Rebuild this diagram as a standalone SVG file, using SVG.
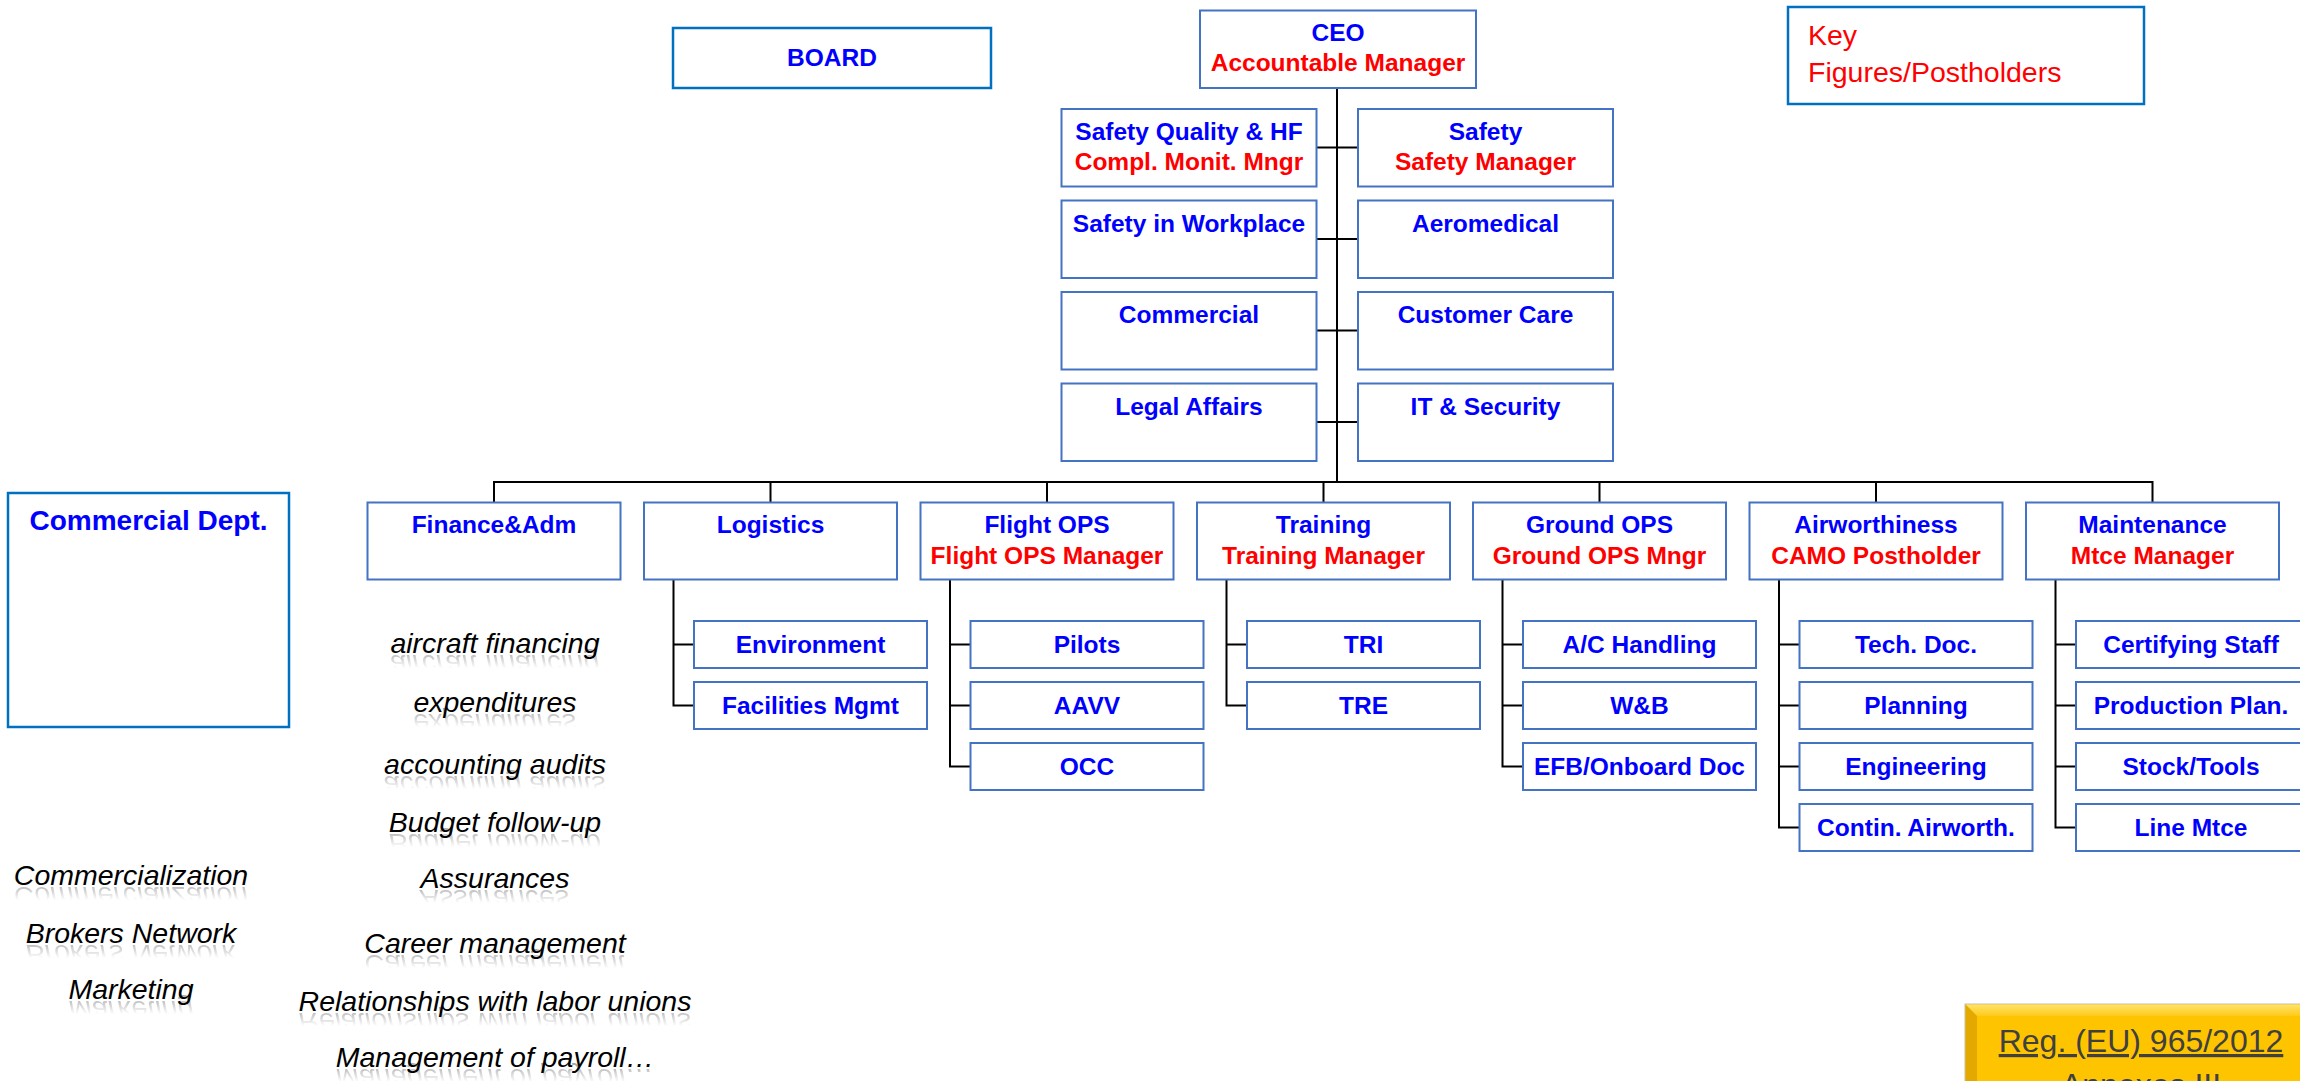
<svg xmlns="http://www.w3.org/2000/svg" xmlns:xlink="http://www.w3.org/1999/xlink" width="2300" height="1081" viewBox="0 0 2300 1081">
<style>
.box{fill:#fff;stroke:#4472C4;stroke-width:2}
.obox{fill:#fff;stroke:#0070C0;stroke-width:2.5}
.t{font-family:"Liberation Sans",Arial,sans-serif;font-weight:bold;font-size:24.5px;text-anchor:middle}
.b{fill:#0000FF}
.r{fill:#FF0000}
.it{font-family:"Liberation Sans",Arial,sans-serif;font-style:italic;font-size:28.5px;fill:#000;text-anchor:middle}
.conn{stroke:#000;stroke-width:2;fill:none}
.refl{opacity:0.4}
</style>
<defs>
<linearGradient id="fade" x1="0" y1="0" x2="0" y2="1">
<stop offset="0.4" stop-color="#fff" stop-opacity="0"/>
<stop offset="1" stop-color="#fff" stop-opacity="0.9"/>
</linearGradient>
<mask id="rm" maskContentUnits="objectBoundingBox">
<rect x="0" y="0" width="1" height="1" fill="url(#fade)"/>
</mask>
<filter id="soft" x="-5%" y="-20%" width="110%" height="140%"><feGaussianBlur stdDeviation="0.7"/></filter>
<linearGradient id="bevTop" x1="0" y1="0" x2="0" y2="1">
<stop offset="0" stop-color="#FFE36B"/>
<stop offset="1" stop-color="#FFCA1A"/>
</linearGradient>
</defs>

<g id="connectors">
<path class="conn" d="M1337,88 V482"/>
<path class="conn" d="M1316.5,147.5 H1358 M1316.5,239 H1358 M1316.5,330.5 H1358 M1316.5,422 H1358"/>
<path class="conn" d="M494,502.5 V482 H2152.5 V502.5"/>
<path class="conn" d="M770.5,482 V502.5 M1047,482 V502.5 M1323.5,482 V502.5 M1599.5,482 V502.5 M1876,482 V502.5"/>
<path class="conn" d="M673.5,579.5 V705.5 H694 M673.5,644.5 H694"/>
<path class="conn" d="M950,579.5 V766.5 H970.5 M950,644.5 H970.5 M950,705.5 H970.5"/>
<path class="conn" d="M1226.5,579.5 V705.5 H1247 M1226.5,644.5 H1247"/>
<path class="conn" d="M1502.5,579.5 V766.5 H1523 M1502.5,644.5 H1523 M1502.5,705.5 H1523"/>
<path class="conn" d="M1779,579.5 V827.5 H1799.5 M1779,644.5 H1799.5 M1779,705.5 H1799.5 M1779,766.5 H1799.5"/>
<path class="conn" d="M2055.5,579.5 V827.5 H2076 M2055.5,644.5 H2076 M2055.5,705.5 H2076 M2055.5,766.5 H2076"/>
</g>

<g id="board"><rect class="obox" x="673" y="28" width="318" height="60"/><text class="t b" x="832" y="66">BOARD</text></g>
<g id="ceo"><rect class="box" x="1200" y="10.5" width="276" height="77.5"/><text class="t b" x="1338" y="40.5">CEO</text><text class="t r" x="1338" y="71">Accountable Manager</text></g>
<g id="key"><rect class="obox" x="1788" y="7" width="356" height="97"/>
<text x="1808" y="45" style="font-family:'Liberation Sans',Arial,sans-serif;font-size:28.5px;fill:#FF0000">Key</text>
<text x="1808" y="82" style="font-family:'Liberation Sans',Arial,sans-serif;font-size:28.5px;fill:#FF0000">Figures/Postholders</text></g>

<g id="safety-quality"><rect class="box" x="1061.5" y="109" width="255" height="77.5"/><text class="t b" x="1189" y="140">Safety Quality &amp; HF</text><text class="t r" x="1189" y="170">Compl. Monit. Mngr</text></g>
<g id="safety"><rect class="box" x="1358" y="109" width="255" height="77.5"/><text class="t b" x="1485.5" y="140">Safety</text><text class="t r" x="1485.5" y="170">Safety Manager</text></g>
<g id="safety-workplace"><rect class="box" x="1061.5" y="200.5" width="255" height="77.5"/><text class="t b" x="1189" y="231.5">Safety in Workplace</text></g>
<g id="aeromedical"><rect class="box" x="1358" y="200.5" width="255" height="77.5"/><text class="t b" x="1485.5" y="231.5">Aeromedical</text></g>
<g id="commercial"><rect class="box" x="1061.5" y="292" width="255" height="77.5"/><text class="t b" x="1189" y="323">Commercial</text></g>
<g id="customer-care"><rect class="box" x="1358" y="292" width="255" height="77.5"/><text class="t b" x="1485.5" y="323">Customer Care</text></g>
<g id="legal"><rect class="box" x="1061.5" y="383.5" width="255" height="77.5"/><text class="t b" x="1189" y="414.5">Legal Affairs</text></g>
<g id="it-security"><rect class="box" x="1358" y="383.5" width="255" height="77.5"/><text class="t b" x="1485.5" y="414.5">IT &amp; Security</text></g>

<g id="commercial-dept"><rect class="obox" x="8" y="493" width="281" height="234"/><text class="t b" x="148.5" y="530" style="font-size:28px">Commercial Dept.</text></g>

<g id="finance"><rect class="box" x="367.5" y="502.5" width="253" height="77"/><text class="t b" x="494" y="533">Finance&amp;Adm</text></g>
<g id="logistics"><rect class="box" x="644" y="502.5" width="253" height="77"/><text class="t b" x="770.5" y="533">Logistics</text></g>
<g id="flight-ops"><rect class="box" x="920.5" y="502.5" width="253" height="77"/><text class="t b" x="1047" y="533">Flight OPS</text><text class="t r" x="1047" y="563.5">Flight OPS Manager</text></g>
<g id="training"><rect class="box" x="1197" y="502.5" width="253" height="77"/><text class="t b" x="1323.5" y="533">Training</text><text class="t r" x="1323.5" y="563.5">Training Manager</text></g>
<g id="ground-ops"><rect class="box" x="1473" y="502.5" width="253" height="77"/><text class="t b" x="1599.5" y="533">Ground OPS</text><text class="t r" x="1599.5" y="563.5">Ground OPS Mngr</text></g>
<g id="airworthiness"><rect class="box" x="1749.5" y="502.5" width="253" height="77"/><text class="t b" x="1876" y="533">Airworthiness</text><text class="t r" x="1876" y="563.5">CAMO Postholder</text></g>
<g id="maintenance"><rect class="box" x="2026" y="502.5" width="253" height="77"/><text class="t b" x="2152.5" y="533">Maintenance</text><text class="t r" x="2152.5" y="563.5">Mtce Manager</text></g>

<g id="environment"><rect class="box" x="694" y="621" width="233" height="47"/><text class="t b" x="810.5" y="653">Environment</text></g>
<g id="facilities"><rect class="box" x="694" y="682" width="233" height="47"/><text class="t b" x="810.5" y="714">Facilities Mgmt</text></g>

<g id="pilots"><rect class="box" x="970.5" y="621" width="233" height="47"/><text class="t b" x="1087" y="653">Pilots</text></g>
<g id="aavv"><rect class="box" x="970.5" y="682" width="233" height="47"/><text class="t b" x="1087" y="714">AAVV</text></g>
<g id="occ"><rect class="box" x="970.5" y="743" width="233" height="47"/><text class="t b" x="1087" y="775">OCC</text></g>

<g id="tri"><rect class="box" x="1247" y="621" width="233" height="47"/><text class="t b" x="1363.5" y="653">TRI</text></g>
<g id="tre"><rect class="box" x="1247" y="682" width="233" height="47"/><text class="t b" x="1363.5" y="714">TRE</text></g>

<g id="ac-handling"><rect class="box" x="1523" y="621" width="233" height="47"/><text class="t b" x="1639.5" y="653">A/C Handling</text></g>
<g id="wb"><rect class="box" x="1523" y="682" width="233" height="47"/><text class="t b" x="1639.5" y="714">W&amp;B</text></g>
<g id="efb"><rect class="box" x="1523" y="743" width="233" height="47"/><text class="t b" x="1639.5" y="775">EFB/Onboard Doc</text></g>

<g id="tech-doc"><rect class="box" x="1799.5" y="621" width="233" height="47"/><text class="t b" x="1916" y="653">Tech. Doc.</text></g>
<g id="planning"><rect class="box" x="1799.5" y="682" width="233" height="47"/><text class="t b" x="1916" y="714">Planning</text></g>
<g id="engineering"><rect class="box" x="1799.5" y="743" width="233" height="47"/><text class="t b" x="1916" y="775">Engineering</text></g>
<g id="contin"><rect class="box" x="1799.5" y="804" width="233" height="47"/><text class="t b" x="1916" y="836">Contin. Airworth.</text></g>

<g id="certifying"><rect class="box" x="2076" y="621" width="233" height="47"/><text class="t b" x="2191" y="653">Certifying Staff</text></g>
<g id="production"><rect class="box" x="2076" y="682" width="233" height="47"/><text class="t b" x="2191" y="714">Production Plan.</text></g>
<g id="stock"><rect class="box" x="2076" y="743" width="233" height="47"/><text class="t b" x="2191" y="775">Stock/Tools</text></g>
<g id="line-mtce"><rect class="box" x="2076" y="804" width="233" height="47"/><text class="t b" x="2191" y="836">Line Mtce</text></g>

<g id="finance-tasks">
<text id="f1" class="it" x="495" y="653">aircraft financing</text>
<text id="f2" class="it" x="495" y="712">expenditures</text>
<text id="f3" class="it" x="495" y="774">accounting audits</text>
<text id="f4" class="it" x="495" y="832">Budget follow-up</text>
<text id="f5" class="it" x="495" y="888">Assurances</text>
<text id="f6" class="it" x="495" y="953">Career management</text>
<text id="f7" class="it" x="495" y="1011">Relationships with labor unions</text>
<text id="f8" class="it" x="495" y="1067">Management of payroll…</text>
</g>
<g id="commercial-tasks">
<text id="c1" class="it" x="131" y="885">Commercialization</text>
<text id="c2" class="it" x="131" y="943">Brokers Network</text>
<text id="c3" class="it" x="131" y="999">Marketing</text>
</g>
<g id="reflections" class="refl" filter="url(#soft)">
<use xlink:href="#f1" href="#f1" mask="url(#rm)" transform="translate(0,1308) scale(1,-1)"/>
<use xlink:href="#f2" href="#f2" mask="url(#rm)" transform="translate(0,1426) scale(1,-1)"/>
<use xlink:href="#f3" href="#f3" mask="url(#rm)" transform="translate(0,1550) scale(1,-1)"/>
<use xlink:href="#f4" href="#f4" mask="url(#rm)" transform="translate(0,1666) scale(1,-1)"/>
<use xlink:href="#f5" href="#f5" mask="url(#rm)" transform="translate(0,1778) scale(1,-1)"/>
<use xlink:href="#f6" href="#f6" mask="url(#rm)" transform="translate(0,1908) scale(1,-1)"/>
<use xlink:href="#f7" href="#f7" mask="url(#rm)" transform="translate(0,2024) scale(1,-1)"/>
<use xlink:href="#f8" href="#f8" mask="url(#rm)" transform="translate(0,2136) scale(1,-1)"/>
<use xlink:href="#c1" href="#c1" mask="url(#rm)" transform="translate(0,1772) scale(1,-1)"/>
<use xlink:href="#c2" href="#c2" mask="url(#rm)" transform="translate(0,1888) scale(1,-1)"/>
<use xlink:href="#c3" href="#c3" mask="url(#rm)" transform="translate(0,2000) scale(1,-1)"/>
</g>

<g id="regulation">
<rect x="1965" y="1004" width="345" height="92" fill="#FFC400" stroke="#BFBFBF" stroke-width="1"/>
<polygon points="1965.5,1004.5 2310,1004.5 2310,1016 1977,1016" fill="url(#bevTop)"/>
<polygon points="1965.5,1004.5 1977,1016 1977,1096 1965.5,1096" fill="#E3A900"/>
<text x="2141" y="1052" style="font-family:'Liberation Sans',Arial,sans-serif;font-size:32px;fill:#404040;text-anchor:middle;text-decoration:underline">Reg. (EU) 965/2012</text>
<text x="2141" y="1096" style="font-family:'Liberation Sans',Arial,sans-serif;font-size:32px;fill:#404040;text-anchor:middle">Annexes III</text>
</g>
</svg>
